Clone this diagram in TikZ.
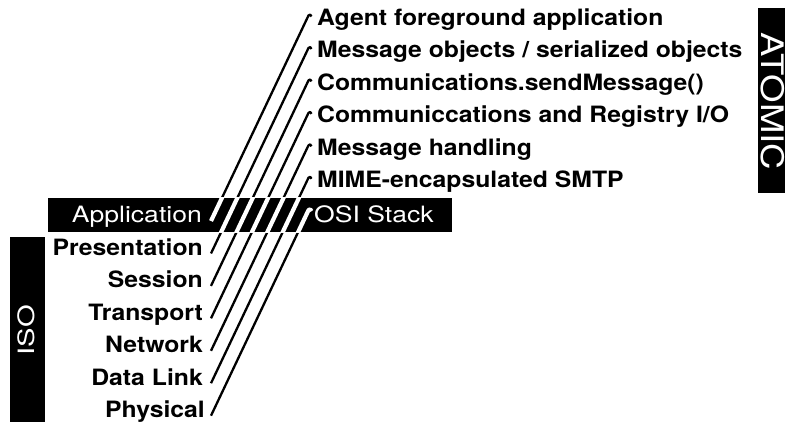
\documentclass[tikz,border=0pt]{standalone}
\usepackage{fontspec}
\setmainfont{TeX Gyre Heros}
\newfontfamily\labelfont{TeX Gyre Heros}[FakeStretch=1.10]
\newfontfamily\invfont{TeX Gyre Heros}[FakeStretch=1.18]
\usetikzlibrary{calc}

\tikzset{
  lbl/.style={font=\labelfont\bfseries\fontsize{22.5}{25}\selectfont, inner sep=0pt},
  leftlbl/.style={lbl, anchor=base east},
  rightlbl/.style={lbl, anchor=base west},
  invlbl/.style={font=\invfont\fontsize{22.5}{25}\selectfont, text=white, inner sep=0pt},
  biglbl/.style={font=\invfont\fontsize{31}{34}\selectfont, text=white, inner sep=0pt},
  link/.style={line width=2.3pt, line cap=butt, line join=round},
  linkinv/.style={line width=4.2pt, line cap=butt, line join=round, white},
  band/.style={fill=black, draw=none},
}

\begin{document}
\begin{tikzpicture}[x=1pt, y=-1pt]
  \useasboundingbox (0,0) rectangle (785,422);

  % line end points: bottom ends beside the ISO layers, top ends beside the ATOMIC layers
  \foreach \k in {0,...,6} {
    \coordinate (b\k) at (211, {221 + 32.45*\k});
    \coordinate (t\k) at (308.5, {15.5 + 32.45*\k});
  }

  % layer-to-layer links
  \foreach \k in {0,...,6} {
    \draw[link] (b\k) -- (t\k)
      .. controls ($(t\k)+(0.9,-1.9)$) and ($(t\k)+(2.6,-0.8)$) .. ($(t\k)+(3,1)$);
  }

  % the common band
  \fill[band] (48,198) rectangle (452,232.5);
  \begin{scope}
    \clip (48,198) rectangle (452,232.5);
    \foreach \k in {0,...,6} {
      \draw[linkinv] (b\k) -- (t\k)
        .. controls ($(t\k)+(0.9,-1.9)$) and ($(t\k)+(2.6,-0.8)$) .. ($(t\k)+(3,1)$);
    }
  \end{scope}
  \node[invlbl, anchor=base east] (app) at (202,223) {Application};
  \node[invlbl, anchor=base west] (osi) at (314,223) {OSI Stack};

  % ISO layers
  \node[leftlbl] (pres) at (203,255.5) {Presentation};
  \node[leftlbl] (sess) at (203,288) {Session};
  \node[leftlbl] (trans) at (203,320.4) {Transport};
  \node[leftlbl] (net) at (203,352.8) {Network};
  \node[leftlbl] (dlink) at (203,385.3) {Data Link};
  \node[leftlbl] (phys) at (205,417.7) {Physical};

  % ATOMIC layers
  \node[rightlbl] (agent) at (317,25.5) {Agent foreground application};
  \node[rightlbl] (msgobj) at (317,58) {Message objects / serialized objects};
  \node[rightlbl] (send) at (317,90.4) {Communications.sendMessage()};
  \node[rightlbl] (regio) at (317,122.9) {Communiccations and Registry I/O};
  \node[rightlbl] (handl) at (317,155.3) {Message handling};
  \node[rightlbl] (mime) at (317,187.8) {MIME-encapsulated SMTP};

  % side tabs
  \fill[band] (10,237) rectangle (45,422);
  \node[invlbl, rotate=90] (iso) at (26,330) {\scalebox{1.1}[1]{ISO}};
  \fill[band] (758,8) rectangle (785,193);
  \node[biglbl, rotate=-90] (atomic) at (773,101.5) {ATOMIC};
\end{tikzpicture}
\end{document}
